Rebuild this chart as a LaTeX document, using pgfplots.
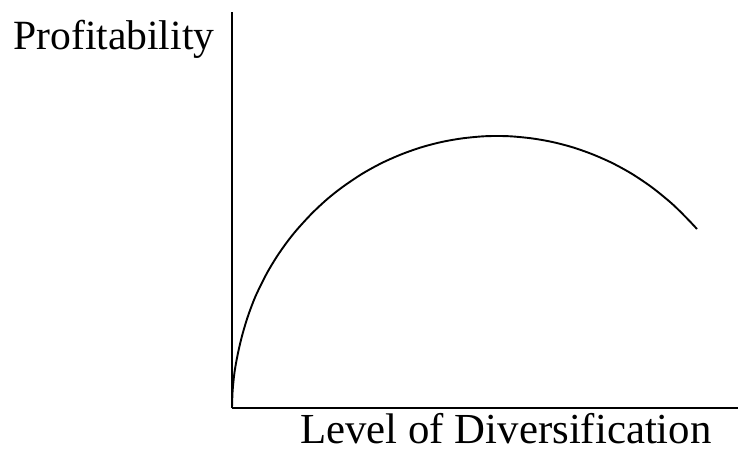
\documentclass[border=0pt]{standalone}
\usepackage{fontspec}
\setmainfont{Liberation Serif}
\usepackage{pgfplots}
\pgfplotsset{compat=1.18}

\begin{document}
\begin{tikzpicture}
\begin{axis}[
    name=ax, at={(0,0)}, anchor=south west,
    x=0.5pt, y=0.5pt,
    xmin=0, xmax=506, ymin=0, ymax=396,
    axis lines=left, axis line style={-, line width=0.95pt, black},
    xtick=\empty, ytick=\empty,
    clip=false,
]
  % profitability curve, read in pixel units from the origin
  \addplot[black, line width=0.95pt, smooth, tension=0.5] coordinates {
    (0,0) (0.5,15) (1.5,27) (3,39) (6,55) (10,72) (15,89) (20,103)
    (25,115) (35,135) (45,151.6) (55,165.9) (65,178.4) (80,194.7)
    (95,208.7) (110,220.6) (130,234.1) (150,245.1) (170,253.9)
    (190,260.9) (210,266.1) (230,269.6) (250,271.6) (265,272)
    (280,271.6) (300,269.6) (320,266.1) (340,260.9) (360,253.9)
    (380,245.1) (400,234.1) (420,220.6) (440,204.3) (455,189.6) (465,179)
  };
  \node[anchor=base west, inner sep=0pt, font=\fontsize{20.8}{24}\selectfont] at (axis cs:-219,358) {Profitability};
  \node[anchor=base west, inner sep=0pt, font=\fontsize{21.4}{24}\selectfont] at (axis cs:68,-35) {Level of Diversification};
\end{axis}
\pgfresetboundingbox
\path (-116pt,-21.5pt) rectangle (253.5pt,204pt);
\end{tikzpicture}
\end{document}
